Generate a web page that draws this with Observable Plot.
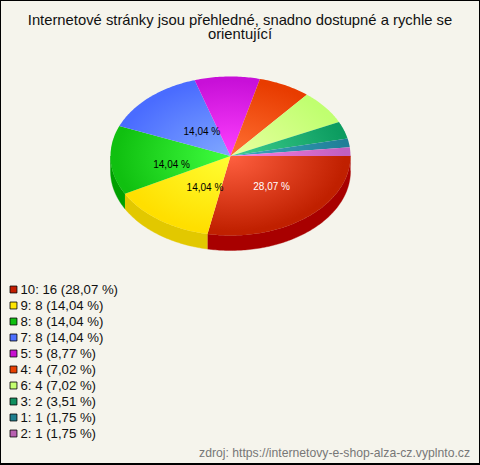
<!DOCTYPE html>
<html><head><meta charset="utf-8">
<script src="https://cdn.jsdelivr.net/npm/d3@7"></script>
<script src="https://cdn.jsdelivr.net/npm/@observablehq/plot@0.6"></script>
<style>
html,body{margin:0;padding:0;background:#f5f4ec;}
#page{position:relative;width:480px;height:465px;overflow:hidden;background:#f5f4ec;font-family:"Liberation Sans",Arial,sans-serif;}
#title{position:absolute;left:0;top:13px;width:480px;text-align:center;font-size:14.8px;line-height:14px;color:#111;}
#source{position:absolute;right:10px;top:446px;font-size:12.2px;color:#777;}
#frame{position:absolute;inset:0;border:1px solid #000;border-bottom-width:2px;box-sizing:border-box;pointer-events:none;}
</style></head><body>
<div id="page">
<div id="title">Internetové stránky jsou přehledné, snadno dostupné a rychle se<br>orientující</div>
<div id="source">zdroj: https://internetovy-e-shop-alza-cz.vyplnto.cz</div>
<div id="frame"></div>
</div>
<script>
const categories = ["10","9","8","7","5","4","6","3","1","2"];
const counts = [16,8,8,8,5,4,4,2,1,1];
const percents = ["28,07","14,04","14,04","14,04","8,77","7,02","7,02","3,51","1,75","1,75"];
const legendColors = ["#c41e00","#ffe600","#10c010","#4d70ff","#c810d0","#e84000","#c4ff70","#109060","#1f8090","#b860b0"];
const edgeColors = ["#c02000","#ffdf00","#10c010","#4a6cff","#c810d8","#e83c00","#c0ff70","#0c9c60","#1f7f98","#c060c0"];
const centerColors = ["#ff6040","#ffff33","#40ff40","#80a8ff","#ff40ff","#ff7033","#e8ffa0","#40d090","#40a8c0","#ff80e0"];
const sideColors = ["#a80000","#e2c800","#00a000"];
const labelShown = [true,true,true,true,false,false,false,false,false,false];
const labelInk = ["#fff","#000","#000","#000"];
const labelNudge = [[3,0],[10,0],[1,7],[12,5]];

const depth = 15/79.5;
const total = d3.sum(counts);
let acc = 0;
const slices = counts.map((c,i)=>{const a0=acc/total*2*Math.PI; acc+=c; return {i,a0,a1:acc/total*2*Math.PI};});
const arcPts = (a0,a1)=>{const n=Math.max(2,Math.ceil((a1-a0)*60)); return d3.range(n+1).map(k=>{const a=a0+(a1-a0)*k/n; return {x:Math.cos(a),y:Math.sin(a)};});};
const wedge = s=>[{x:0,y:0},...arcPts(s.a0,s.a1),{x:0,y:0}];
const wall = s=>{const a1=Math.min(s.a1,Math.PI); const p=arcPts(s.a0,a1); return [...p,...p.slice().reverse().map(q=>({x:q.x,y:q.y+depth}))];};
const frontSlices = slices.filter(s=>s.a0<Math.PI);

const gradients = (index,scales)=>{
  const ns="http://www.w3.org/2000/svg";
  const defs=document.createElementNS(ns,"defs");
  const cx=scales.x(0),cy=scales.y(0),rx=scales.x(1)-cx,ry=scales.y(1)-cy;
  slices.forEach(s=>{
    const g=document.createElementNS(ns,"radialGradient");
    g.setAttribute("id","g"+s.i);
    g.setAttribute("gradientUnits","userSpaceOnUse");
    g.setAttribute("cx",0);g.setAttribute("cy",0);g.setAttribute("r",1);
    g.setAttribute("gradientTransform",`translate(${cx},${cy}) scale(${rx},${ry})`);
    [[0,centerColors[s.i]],[.95,edgeColors[s.i]],[1,edgeColors[s.i]]].forEach(([o,c])=>{
      const st=document.createElementNS(ns,"stop");st.setAttribute("offset",o);st.setAttribute("stop-color",c);g.appendChild(st);
    });
    defs.appendChild(g);
  });
  return defs;
};

const pie = Plot.plot({
  width:480,height:280,margin:0,style:{background:"transparent"},
  x:{domain:[-1,1],range:[110,350],axis:null},
  y:{domain:[-1,1],range:[76,235],axis:null},
  marks:[
    gradients,
    ...frontSlices.map(s=>Plot.line(wall(s),{x:"x",y:"y",fill:sideColors[s.i],stroke:sideColors[s.i],strokeWidth:.4})),
    ...slices.map(s=>Plot.line(wedge(s),{x:"x",y:"y",fill:`url(#g${s.i})`,stroke:"none"})),
    ...slices.filter(s=>labelShown[s.i]).map(s=>{
      const m=(s.a0+s.a1)/2;
      return Plot.text([`${percents[s.i]} %`],{x:[Math.cos(m)/2],y:[Math.sin(m)/2],text:d=>d,fill:labelInk[s.i],fontSize:10,
        fontFamily:"Liberation Sans",dx:labelNudge[s.i][0],dy:labelNudge[s.i][1]});
    })
  ]
});
pie.style.position="absolute";pie.style.top="0";pie.style.left="0";

const rows = categories.map((c,i)=>({key:c,label:`${c}: ${counts[i]} (${percents[i]} %)`,color:legendColors[i]}));
const legend = Plot.plot({
  width:480,height:165,margin:0,style:{background:"transparent"},
  x:{axis:null},
  y:{type:"point",domain:categories,range:[9,153],padding:0,axis:null},
  marks:[
    Plot.dot(rows,{y:"key",frameAnchor:"left",dx:13,symbol:"square",r:3.9,fill:"color",stroke:"#000",strokeWidth:.8}),
    Plot.text(rows,{y:"key",frameAnchor:"left",dx:20,text:"label",textAnchor:"start",fontSize:13.2,fontFamily:"Liberation Sans",fill:"#111"})
  ]
});
legend.style.position="absolute";legend.style.top="280px";legend.style.left="0";

const page=document.getElementById("page");
page.insertBefore(legend,page.firstChild);
page.insertBefore(pie,page.firstChild);
</script>
</body></html>
